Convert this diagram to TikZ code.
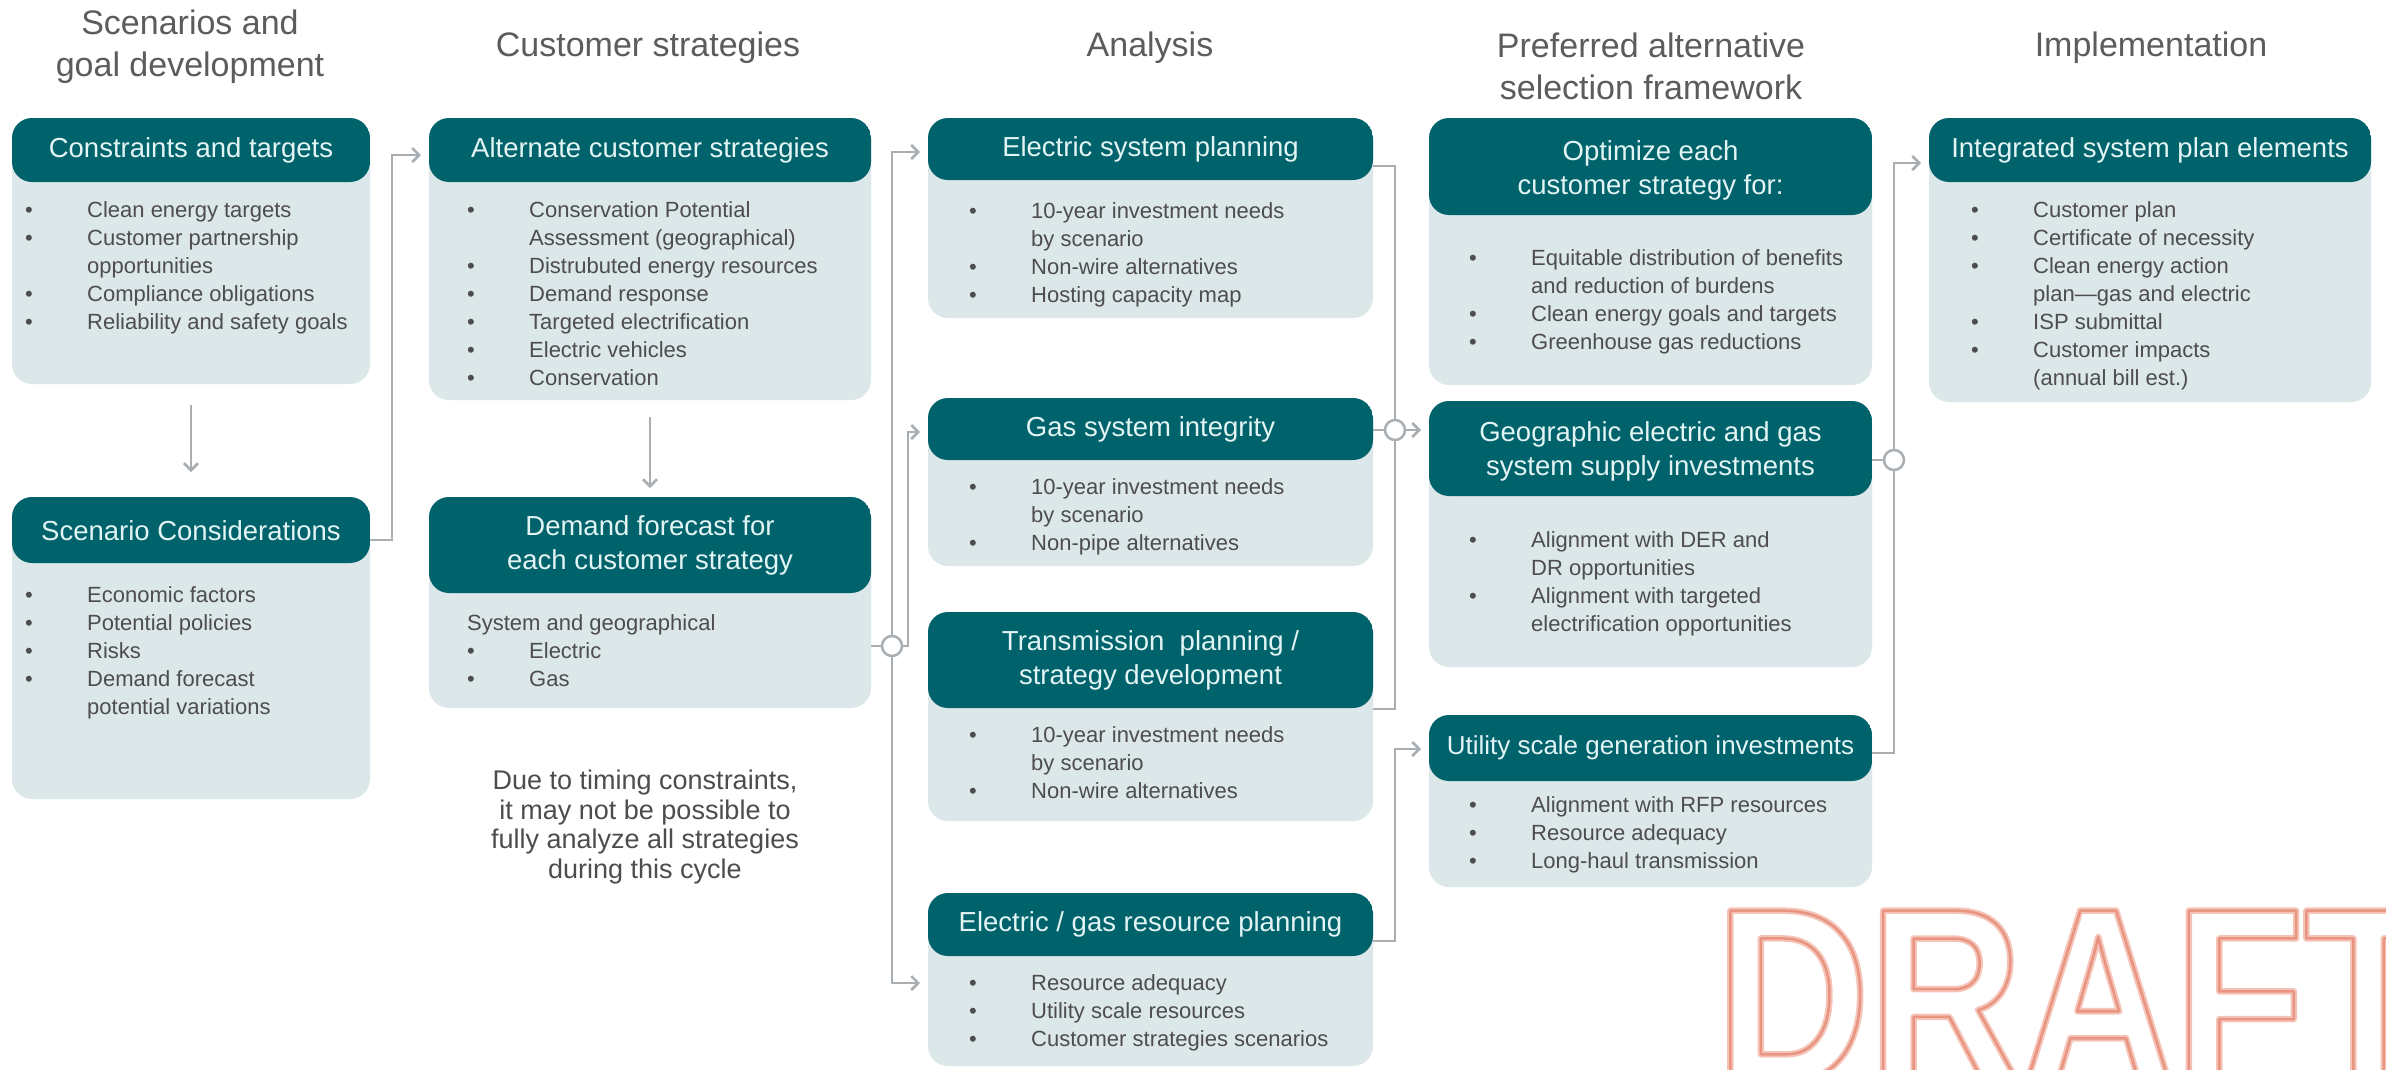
\documentclass[tikz,border=0pt]{standalone}
\usepackage{fontspec}
\setmainfont{Liberation Sans}
\newfontfamily\draftfont{Liberation Sans}[UprightFont={* Bold}, FakeStretch=0.85]
\usetikzlibrary{arrows.meta,calc}
\definecolor{headc}{RGB}{0,98,107}
\definecolor{bodyc}{RGB}{220,231,233}
\definecolor{htextc}{RGB}{226,244,244}
\definecolor{btextc}{RGB}{77,77,77}
\definecolor{titlec}{RGB}{92,92,92}
\definecolor{connc}{RGB}{168,174,178}
\tikzset{
  boxst/.style={rounded corners=20pt, fill=bodyc, inner sep=0pt, outer sep=0pt, draw=none},
  headtext/.style={text=htextc, font=\fontsize{27.5pt}{34pt}\selectfont, align=center, inner sep=0pt},
  bodytext/.style={text=btextc, font=\fontsize{22pt}{28pt}\selectfont, inner sep=0pt, anchor=base west},
  coltitle/.style={text=titlec, font=\fontsize{34pt}{42pt}\selectfont, align=center, inner sep=0pt},
  notetext/.style={text=btextc, font=\fontsize{27pt}{29.5pt}\selectfont, align=center, inner sep=0pt},
  conn/.style={draw=connc, line width=2.5pt, -{Straight Barb[length=7pt,width=14pt]}},
  plainconn/.style={draw=connc, line width=2.5pt},
  junction/.style={circle, draw=connc, line width=2.5pt, fill=white, minimum size=20pt, inner sep=0pt},
  draftst/.style={font=\draftfont\fontsize{249pt}{249pt}\selectfont, inner sep=0pt, anchor=base west},
}
% #1 name, #2 x1, #3 y1, #4 x2, #5 y2, #6 header height, #7 header text centre y, #8 header text
\newcommand\flowbox[8]{%
  \def\hdh{#6}%
  \node[boxst, anchor=north west, minimum width={(#4)-(#2)}, minimum height={(#5)-(#3)},
    path picture={\fill[headc] (path picture bounding box.north west) rectangle ([yshift=-\hdh pt]path picture bounding box.north east);}]
    (#1) at (#2,#3) {};
  \node[headtext] (#1-t) at ({((#2)+(#4))/2},#7) {#8};
}
\newcommand\flowlist[4]{%
  \node[bodytext] (#1) at (#2,#3) {\begin{tabular}[t]{@{}p{62pt}@{}l@{}}#4\end{tabular}};
}
\begin{document}
\begin{tikzpicture}[x=1pt,y=-1pt]
\useasboundingbox (0,0) rectangle (2386,1069);
\fill[white] (0,0) rectangle (2386,1069);

% column titles
\node[coltitle] (t1) at (190,47) {Scenarios and\\goal development};
\node[coltitle] (t2) at (648,48) {Customer strategies};
\node[coltitle] (t3) at (1150,48) {Analysis};
\node[coltitle] (t4) at (1651,66) {Preferred alternative\\selection framework};
\node[coltitle] (t5) at (2151,48) {Implementation};

% boxes
\flowbox{cons}{12}{118}{370}{384}{64}{150}{Constraints and targets}
\flowbox{scen}{12}{497}{370}{799}{66}{531}{Scenario Considerations}
\flowbox{alt}{429}{118}{871}{400}{64}{150}{Alternate customer strategies}
\flowbox{dem}{429}{497}{871}{708}{96}{545}{Demand forecast for\\each customer strategy}
\flowbox{esp}{928}{118}{1373}{318}{62}{149}{Electric system planning}
\flowbox{gsi}{928}{398}{1373}{566}{62}{429}{Gas system integrity}
\flowbox{tpl}{928}{612}{1373}{821}{96}{660}{Transmission\ \ planning /\\strategy development}
\flowbox{rpl}{928}{893}{1373}{1066}{63}{924}{Electric / gas resource planning}
\flowbox{opt}{1429}{118}{1872}{385}{97}{170}{Optimize each\\customer strategy for:}
\flowbox{geo}{1429}{401}{1872}{667}{95}{451}{Geographic electric and gas\\system supply investments}
\flowbox{usg}{1429}{715}{1872}{887}{66}{748}{\fontsize{26pt}{30pt}\selectfont Utility scale generation investments}
\flowbox{isp}{1929}{118}{2371}{402}{64}{150}{Integrated system plan elements}

% box contents
\flowlist{cons-b}{25}{217}{\textbullet & Clean energy targets\\ \textbullet & Customer partnership\\ & opportunities\\ \textbullet & Compliance obligations\\ \textbullet & Reliability and safety goals}
\flowlist{scen-b}{25}{602}{\textbullet & Economic factors\\ \textbullet & Potential policies\\ \textbullet & Risks\\ \textbullet & Demand forecast\\ & potential variations}
\flowlist{alt-b}{467}{217}{\textbullet & Conservation Potential\\ & Assessment (geographical)\\ \textbullet & Distrubuted energy resources\\ \textbullet & Demand response\\ \textbullet & Targeted electrification\\ \textbullet & Electric vehicles\\ \textbullet & Conservation}
\flowlist{dem-b}{467}{630}{\multicolumn{2}{@{}l@{}}{System and geographical}\\ \textbullet & Electric\\ \textbullet & Gas}
\flowlist{esp-b}{969}{218}{\textbullet & 10-year investment needs\\ & by scenario\\ \textbullet & Non-wire alternatives\\ \textbullet & Hosting capacity map}
\flowlist{gsi-b}{969}{494}{\textbullet & 10-year investment needs\\ & by scenario\\ \textbullet & Non-pipe alternatives}
\flowlist{tpl-b}{969}{742}{\textbullet & 10-year investment needs\\ & by scenario\\ \textbullet & Non-wire alternatives}
\flowlist{rpl-b}{969}{990}{\textbullet & Resource adequacy\\ \textbullet & Utility scale resources\\ \textbullet & Customer strategies scenarios}
\flowlist{opt-b}{1469}{265}{\textbullet & Equitable distribution of benefits\\ & and reduction of burdens\\ \textbullet & Clean energy goals and targets\\ \textbullet & Greenhouse gas reductions}
\flowlist{geo-b}{1469}{547}{\textbullet & Alignment with DER and\\ & DR opportunities\\ \textbullet & Alignment with targeted\\ & electrification opportunities}
\flowlist{usg-b}{1469}{812}{\textbullet & Alignment with RFP resources\\ \textbullet & Resource adequacy\\ \textbullet & Long-haul transmission}
\flowlist{isp-b}{1971}{217}{\textbullet & Customer plan\\ \textbullet & Certificate of necessity\\ \textbullet & Clean energy action\\ & plan---gas and electric\\ \textbullet & ISP submittal\\ \textbullet & Customer impacts\\ & (annual bill est.)}

% note
\node[notetext] (note) at (645,827) {Due to timing constraints,\\it may not be possible to\\fully analyze all strategies\\during this cycle};

% junctions
\node[junction] (c1) at (892,646) {};
\node[junction] (c2) at (1395,430) {};
\node[junction] (c3) at (1894,460) {};

% connectors
\draw[conn, shorten <=21pt, shorten >=25pt] (cons) -- (scen);
\draw[conn] ([yshift=-43pt]scen.north east) -| ([xshift=-37pt,yshift=-37pt]alt.north west) -- ([xshift=-8pt,yshift=-37pt]alt.north west);
\draw[conn, shorten <=17pt, shorten >=9pt] (alt) -- (dem);

\draw[plainconn] (dem.east |- c1) -- (c1.west);
\draw[conn] (c1.north) |- ([xshift=-8pt,yshift=-34pt]esp.north west);
\draw[conn] (c1.south) |- ([xshift=-8pt,yshift=-90pt]rpl.north west);
\draw[conn] (c1.east) -| ([xshift=-20pt,yshift=-34pt]gsi.north west) -- ([xshift=-8pt,yshift=-34pt]gsi.north west);

\draw[plainconn] ([yshift=-48pt]esp.north east) -| (c2.north);
\draw[plainconn] (c2.south) |- ([yshift=-97pt]tpl.north east);
\draw[plainconn] (gsi.east |- c2) -- (c2.west);
\draw[conn] (c2.east) -- ([xshift=-8pt]geo.west |- c2);

\draw[conn] ([yshift=-48pt]rpl.north east) -| ([xshift=-34pt,yshift=-34pt]usg.north west) -- ([xshift=-8pt,yshift=-34pt]usg.north west);

\draw[plainconn] (geo.east |- c3) -- (c3.west);
\draw[plainconn] ([yshift=-38pt]usg.north east) -| (c3.south);
\draw[conn] (c3.north) |- ([xshift=-8pt,yshift=-45pt]isp.north west);

% DRAFT watermark: outlined (stroked) bold text, a soft band with a thin darker core line
\begin{scope}
\clip (0,0) rectangle (2386,1069);
\node[draftst] (draft) at (1716,1082) {\special{pdf:code q 1 Tr 1 j 6.5 w 0.96 0.77 0.72 RG}DRAFT\special{pdf:code Q}};
\node[draftst] (draft-in) at (1716,1082) {\special{pdf:code q 1 Tr 1 j 2.5 w 0.91 0.58 0.50 RG}DRAFT\special{pdf:code Q}};
\end{scope}
\end{tikzpicture}
\end{document}
